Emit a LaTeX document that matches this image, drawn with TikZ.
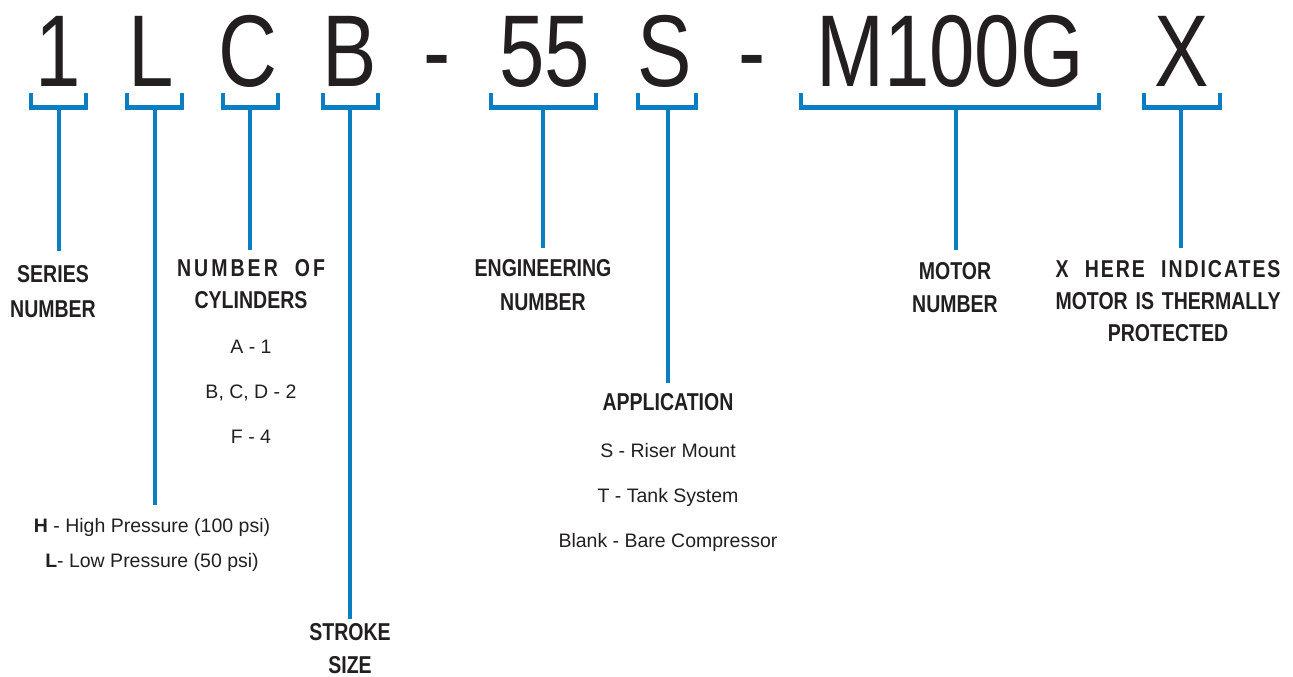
\documentclass[tikz,border=0pt]{standalone}
\usepackage{fontspec}
\setmainfont{Liberation Sans}
\newfontfamily\condfont{Liberation Sans}[FakeStretch=0.8]
\usepackage{xcolor}
\usepackage{tikz}

\definecolor{codeblue}{HTML}{0A7EC2}
\definecolor{ink}{HTML}{231F20}

\begin{document}
\begin{tikzpicture}[x=1pt, y=-1pt,
    glyph/.style={font=\condfont\fontsize{102}{102}\selectfont, text=ink, inner sep=0pt, anchor=base},
    heading/.style={font=\condfont\bfseries\fontsize{24.4}{33}\selectfont, text=ink, align=center, inner sep=0pt, anchor=north},
    notes/.style={font=\fontsize{19.5}{45}\selectfont, text=ink, align=center, inner sep=0pt, anchor=north},
    line/.style={draw=codeblue, line width=4.6pt}]

    \useasboundingbox (0,0) rectangle (1293,677);

    % Code
    \node [glyph] (one) at (58,87) {1};
    \node [glyph] (pres) at (151,87) {L};
    \node [glyph] (cyl) at (248,87) {C};
    \node [glyph] (strk) at (350,87) {B};
    \node [glyph] (dasha) at (437,87) {-};
    \node [glyph] (eng) at (545,87) {55};
    \node [glyph] (app) at (665,87) {S};
    \node [glyph] (dashb) at (752,87) {-};
    \node [glyph] (mot) at (950,87) {M100G};
    \node [glyph] (thm) at (1182,87) {X};

    % Brackets
    \coordinate (b1) at (59,107.5);
    \coordinate (bL) at (155,107.5);
    \coordinate (bC) at (250,107.5);
    \coordinate (bB) at (350,107.5);
    \coordinate (b55) at (543,107.5);
    \coordinate (bS) at (668,107.5);
    \coordinate (bM) at (956,107.5);
    \coordinate (bX) at (1181,107.5);
    \path [line] (31,93) |- (b1) -| (86,93);
    \path [line] (127,93) |- (bL) -| (182,93);
    \path [line] (223,93) |- (bC) -| (278,93);
    \path [line] (323,93) |- (bB) -| (378,93);
    \path [line] (491,93) |- (b55) -| (596,93);
    \path [line] (638,93) |- (bS) -| (696,93);
    \path [line] (801,93) |- (bM) -| (1099,93);
    \path [line] (1144,93) |- (bX) -| (1220,93);

    % Labels
    \node [heading, font=\condfont\bfseries\fontsize{24.4}{35}\selectfont] (series) at (53,265.5) {SERIES\\NUMBER};
    \node [heading, font=\condfont\bfseries\fontsize{24.4}{32}\selectfont] (cylhead) at (251,259.5)
        {\makebox[148pt][s]{\addfontfeature{LetterSpace=12.5}NUMBER OF}\\CYLINDERS};
    \node [notes] (cylnotes) at (251,340) {A - 1\\B, C, D - 2\\F - 4};
    \node [notes, font=\fontsize{19.5}{35}\selectfont] (presnotes) at (152,518)
        {\textbf{H} - High Pressure (100 psi)\\\textbf{L}- Low Pressure (50 psi)};
    \node [heading, font=\condfont\bfseries\fontsize{24.4}{33}\selectfont] (stroke) at (350,623.5) {STROKE\\SIZE};
    \node [heading, font=\condfont\bfseries\fontsize{24.4}{34}\selectfont] (enghead) at (543,259.5) {ENGINEERING\\NUMBER};
    \node [heading] (apphead) at (668,393.5) {APPLICATION};
    \node [notes] (appnotes) at (668,443) {S - Riser Mount\\T - Tank System\\Blank - Bare Compressor};
    \node [heading] (mothead) at (955,262.5) {MOTOR\\NUMBER};
    \node [heading, font=\condfont\bfseries\fontsize{24.4}{32}\selectfont] (thmhead) at (1168,260.5)
        {\makebox[225pt][s]{\addfontfeature{LetterSpace=8}X HERE INDICATES}\\
         \makebox[225pt][s]{MOTOR IS THERMALLY}\\PROTECTED};

    % Stems
    \path [line, shorten >=15pt] (b1) -- (b1 |- series.north);
    \path [line, shorten >=13pt] (bL) -- (bL |- presnotes.north);
    \path [line, shorten >=9.5pt] (bC) -- (bC |- cylhead.north);
    \path [line, shorten >=4.5pt] (bB) -- (bB |- stroke.north);
    \path [line, shorten >=11.5pt] (b55) -- (b55 |- enghead.north);
    \path [line, shorten >=10.5pt] (bS) -- (bS |- apphead.north);
    \path [line, shorten >=12.5pt] (bM) -- (bM |- mothead.north);
    \path [line, shorten >=12.5pt] (bX) -- (bX |- thmhead.north);

\end{tikzpicture}
\end{document}
